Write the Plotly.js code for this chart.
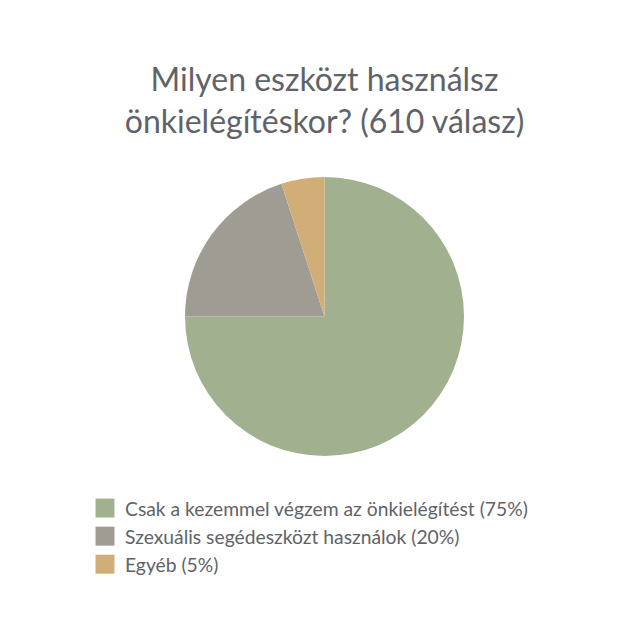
<!DOCTYPE html>
<html>
<head>
<meta charset="utf-8">
<script src="https://cdn.plot.ly/plotly-3.0.1.min.js"></script>
<style>
  html, body { margin: 0; padding: 0; background: #fff; }
  #chart { width: 640px; height: 636px; }
</style>
</head>
<body>
<div id="chart"></div>
<script>
// answers to the survey question, in drawing order
const labels = [
    'Csak a kezemmel végzem az önkielégítést (75%)',
    'Szexuális segédeszközt használok (20%)',
    'Egyéb (5%)'
];
const shares = [75, 20, 5];
const sliceColors = ['#a1b18f', '#9f9c93', '#d1ae78'];

const textColor = '#5f6368';

const trace = {
    type: 'pie',
    labels: labels,
    values: shares,
    sort: false,
    direction: 'clockwise',
    rotation: 0,
    textinfo: 'none',
    hoverinfo: 'label',
    marker: {
        colors: sliceColors,
        line: { width: 0 }
    },
    domain: {
        x: [185 / 640, 464 / 640],
        y: [180 / 636, 459 / 636]
    }
};

const layout = {
    width: 640,
    height: 636,
    margin: { l: 0, r: 0, t: 0, b: 0 },
    paper_bgcolor: '#ffffff',
    font: { family: 'Lato, sans-serif', color: textColor },
    title: {
        text: 'Milyen eszközt használsz<br>önkielégítéskor? (610 válasz)',
        font: { family: 'Lato, sans-serif', size: 32, color: textColor },
        x: 0.507,
        xanchor: 'center',
        y: 1 - 91 / 636,
        yanchor: 'top'
    },
    showlegend: true,
    legend: {
        x: 85 / 640,
        xanchor: 'left',
        y: 147 / 636,
        yanchor: 'top',
        font: { family: 'Lato, sans-serif', size: 19.3, color: textColor },
        bgcolor: 'rgba(0,0,0,0)'
    }
};

const config = { displayModeBar: false, staticPlot: true };

Plotly.newPlot('chart', [trace], layout, config).then(() => {
    // the reference uses bigger legend squares than plotly's default
    document.querySelectorAll('#chart .legendpoints path').forEach(p => {
        p.setAttribute('transform', 'translate(20,0) scale(1.58)');
    });
});
</script>
</body>
</html>
